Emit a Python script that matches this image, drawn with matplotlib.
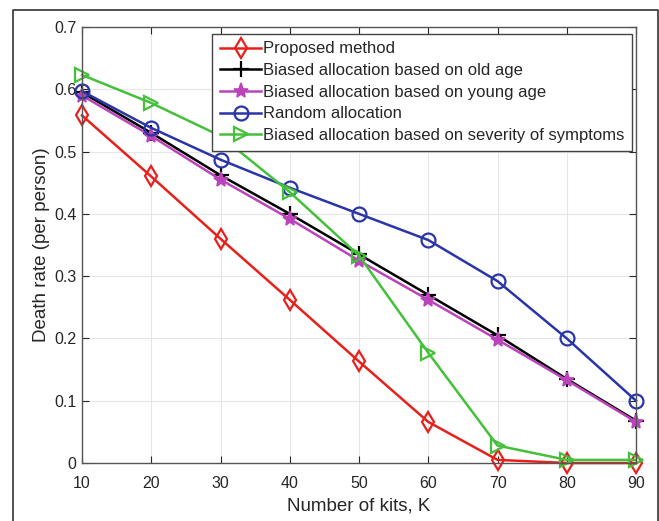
import matplotlib.pyplot as plt
from matplotlib.lines import Line2D

plt.rcParams['font.family'] = ['Liberation Sans', 'DejaVu Sans']

# data
kits = [10, 20, 30, 40, 50, 60, 70, 80, 90]
proposed = [0.558, 0.460, 0.360, 0.262, 0.163, 0.066, 0.005, 0.0, 0.0]
old_age = [0.595, 0.530, 0.462, 0.400, 0.335, 0.270, 0.205, 0.135, 0.068]
young_age = [0.590, 0.525, 0.455, 0.392, 0.325, 0.262, 0.198, 0.133, 0.066]
random_alloc = [0.597, 0.538, 0.487, 0.442, 0.400, 0.358, 0.292, 0.200, 0.100]
severity = [0.623, 0.578, 0.525, 0.435, 0.333, 0.177, 0.028, 0.005, 0.005]

labels = ['Proposed method',
          'Biased allocation based on old age',
          'Biased allocation based on young age',
          'Random allocation',
          'Biased allocation based on severity of symptoms']
yticks = [0, 0.1, 0.2, 0.3, 0.4, 0.5, 0.6, 0.7]

fig = plt.figure(figsize=(6.59, 5.21), dpi=100)
ax = fig.add_axes([82/659, 1 - 463/521, (636-82)/659, (463-27)/521])

lw = 1.8
kw = dict(lw=lw, clip_on=False)
ax.plot(kits, proposed, color='#e8201c', marker='d', ms=10, mfc='none', mew=1.6, label=labels[0], **kw)
ax.plot(kits, old_age, color='black', marker='+', ms=11, mew=1.6, label=labels[1], **kw)
ax.plot(kits, young_age, color='#bb44bb', marker='*', ms=11, mew=1.2, label=labels[2], **kw)
ax.plot(kits, random_alloc, color='#2a35a8', marker='o', ms=10, mfc='none', mew=1.6, label=labels[3], **kw)
ax.plot(kits, severity, color='#44c03a', marker='>', ms=10, mfc='none', mew=1.6, label=labels[4], **kw)

ax.set_xlim(10, 90)
ax.set_ylim(0, 0.7)
ax.set_xticks(kits)
ax.set_yticks(yticks)
ax.set_yticklabels(['0', '0.1', '0.2', '0.3', '0.4', '0.5', '0.6', '0.7'])
ax.grid(True, color='#e6e6e6', lw=0.8)
ax.set_axisbelow(True)
ax.tick_params(direction='in', top=True, right=True, length=5, labelsize=11.5,
               colors='#262626', width=0.8)
ax.tick_params(axis='x', pad=9)
ax.tick_params(axis='y', pad=4)
for s in ax.spines.values():
    s.set_color('#555555')
    s.set_linewidth(1.0)
ax.set_xlabel('Number of kits, K', fontsize=13.5, color='#262626', labelpad=5)
ax.set_ylabel('Death rate (per person)', fontsize=13.5, color='#262626', labelpad=3)

leg = ax.legend(loc='upper right', bbox_to_anchor=(632/659, 1 - 34/521),
                bbox_transform=fig.transFigure, fontsize=12, handlelength=2.5,
                handletextpad=0.1, labelspacing=0.4, borderpad=0.45,
                borderaxespad=0, fancybox=False, framealpha=1)
leg.get_frame().set_edgecolor('#444444')
leg.get_frame().set_linewidth(1.0)
for t in leg.get_texts():
    t.set_color('#262626')

# outer frame of the figure panel
fig.add_artist(Line2D([13/659, 13/659, 658/659, 658/659],
                      [0, 1 - 10/521, 1 - 10/521, 0],
                      transform=fig.transFigure, color='#333333', lw=1.2))

fig.savefig('out.png', dpi=100)
